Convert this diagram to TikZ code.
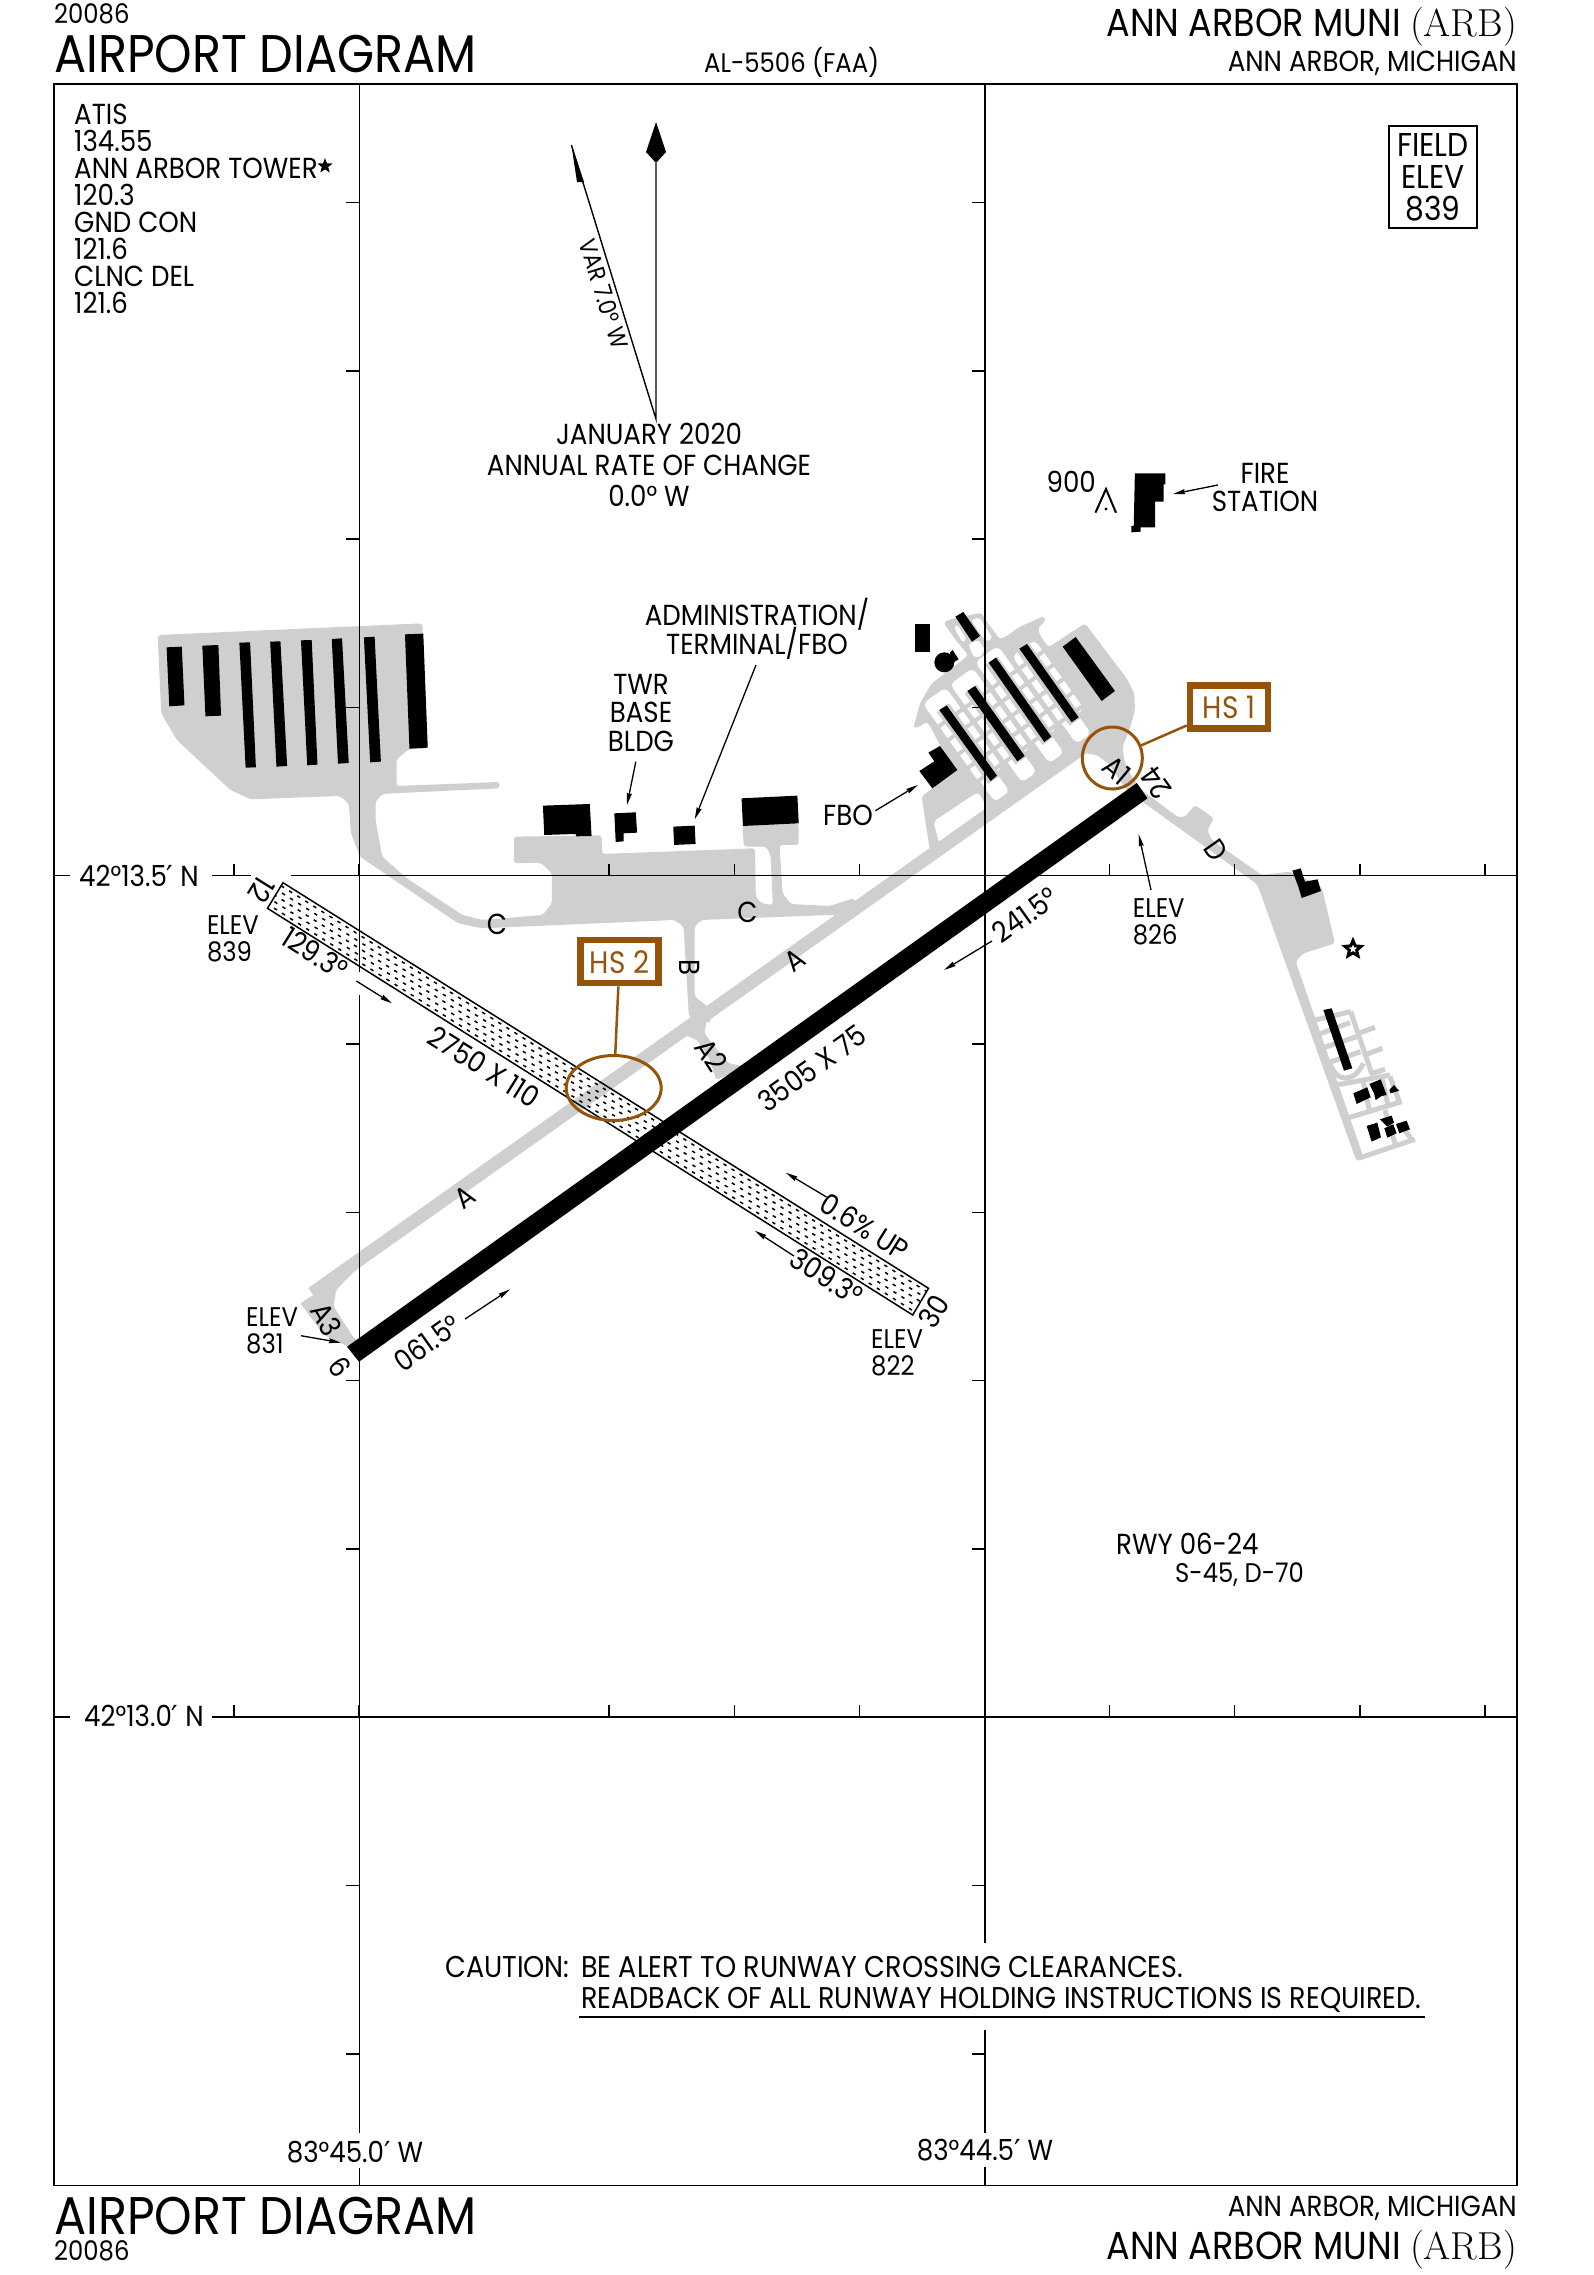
\documentclass[tikz,border=0pt]{standalone}
\usepackage{fontspec}
\setmainfont{Poppins}[FakeStretch=0.9]
\newfontfamily\primefont{DejaVu Sans}
\usetikzlibrary{arrows.meta,calc,positioning,shapes.geometric}
\definecolor{taxigray}{HTML}{CFCFCF}
\definecolor{hotbrown}{HTML}{96540A}
\newcommand{\fs}[2]{\fontsize{#1}{#2}\selectfont\lineskiplimit=-100pt}
\newcommand{\prm}{{\primefont ′}}
\tikzset{
  lab/.style={inner sep=0,font=\fs{29}{27}},
  less/.style={inner sep=0,font=\fs{27}{27}},
  small/.style={inner sep=0,font=\fs{24}{27}},
  big/.style={inner sep=0,font=\fs{39}{40}},
  huge/.style={inner sep=0,font=\fs{53}{56}},
  arr/.style={line width=1.3pt,-{Stealth[length=12pt,width=5pt,inset=1pt]}},
  frm/.style={line width=1.5pt},
  hsbox/.style={draw=hotbrown,line width=6.5pt,text=hotbrown,fill=white,inner sep=0,minimum width=78pt,minimum height=43pt,font=\fs{31}{27}},
  hotspot/.style={ellipse,draw=hotbrown,line width=3pt,inner sep=0},
  viewa/.style={shift={(130,580)},x=0.4464pt,y=-0.3333pt},
  viewb/.style={shift={(800,420)},x=0.3827pt,y=-0.3333pt},
  viewc/.style={shift={(1150,780)},x=0.3333pt,y=-0.3333pt},
  viewd/.style={shift={(250,1000)},x=0.4783pt,y=-0.3333pt},
  viewe/.style={shift={(900,600)},x=0.3333pt,y=-0.3333pt},
  hangars/.style={shift={(943,707.7)},x={(0.271pt,0.1943pt)},y={(0.1943pt,-0.271pt)}},
}
\begin{document}
\begin{tikzpicture}[x=1pt,y=-1pt]
\useasboundingbox (0,0) rectangle (1593,2275);

% taxiways and aprons
\begin{scope}[viewa]
  \fill[taxigray,rounded corners=3pt] (62,165) -- (655,130) -- (660,300) -- (666,505) -- (625,507) -- (597,538) -- (597,618)
    -- (828,606) -- (828,625) -- (590,640) -- (565,642) -- (550,665) -- (550,720) -- (565,830) -- (620,895) -- (745,1005)
    -- (790,1020) -- (925,1005) -- (945,970) -- (945,880) -- (920,848) -- (860,850) -- (860,770) -- (1056,766) -- (1058,822)
    -- (1400,805) -- (1402,950) -- (1415,970) -- (1440,975) -- (1435,825) -- (1425,800) -- (1375,800) -- (1372,735) -- (1498,730)
    -- (1498,795) -- (1455,795) -- (1462,940) -- (1480,972) -- (1568,978) -- (1620,955) -- (1640,985) -- (1600,1005) -- (1568,1005) -- (1280,1020) -- (1265,1040)
    -- (1265,1250) -- (1300,1285) -- (1300,1330) -- (1252,1310) -- (1240,1040) -- (1220,1020) -- (790,1045) -- (735,1030) -- (515,830)
    -- (495,760) -- (490,670) -- (470,648) -- (270,658) -- (225,630) -- (105,480) -- (70,400) -- cycle;
\end{scope}
\begin{scope}[viewe]
  \fill[taxigray,rounded corners=3pt] (65,590) -- (97,565) -- (165,510) -- (125,445) -- (90,378) -- (80,365) -- (62,378) -- (40,385)
    -- (60,310) -- (95,250) -- (175,190) -- (205,165) -- (175,130) -- (130,68) -- (150,58) -- (245,38) -- (258,62) -- (300,118)
    -- (320,108) -- (360,80) -- (432,48) -- (436,64) -- (415,82) -- (418,102) -- (445,142) -- (555,70) -- (680,235) -- (703,280)
    -- (705,330) -- (690,385) -- (668,440) -- (672,480) -- (690,520) -- (710,550) -- (745,590) -- (700,600) -- (625,490)
    -- (590,465) -- (545,458) -- (90,755) -- cycle;
  \fill[white,rounded corners=4pt] (100,665) -- (235,575) -- (262,625) -- (120,738) -- cycle;
  \fill[white,rounded corners=3pt] (162,82) -- (172,74) -- (200,118) -- (188,128) -- cycle;
  \fill[white,rounded corners=3pt] (205,132) -- (236,120) -- (255,150) -- (240,172) -- (220,170) -- cycle;
  \fill[white,rounded corners=3pt] (212,60) -- (238,52) -- (278,115) -- (258,125) -- cycle;
\end{scope}
\begin{scope}[hangars]
  \foreach \ux/\vt/\vb in {0/-45/250, 100/-45/250, 200/-55/250, 300/-5/250} {
    \fill[white,rounded corners=5pt] (\ux-42,\vt) -- (\ux+42,\vt) -- (\ux+42,\vb) -- (\ux-42,\vb) -- cycle;
    \fill[white,rounded corners=6pt] (\ux-38,\vb-30) -- (\ux+16,\vb-30) -- (\ux+16,322) -- (\ux-38,322) -- cycle;
  }
  \foreach \ux/\bt in {0/0, 100/3, 200/-30, 300/-10} {
    \draw[taxigray,line width=15pt] (\ux,\bt) -- (\ux,265);
    \foreach \vr in {38,88,140,190,240}
      \draw[taxigray,line width=4pt] (\ux-45,\vr) -- (\ux+45,\vr);
  }
\end{scope}
\begin{scope}[viewc]
  \fill[taxigray,rounded corners=3pt] (-25,30) -- (85,112) -- (105,110) -- (135,75) -- (192,115) -- (172,150) -- (185,180) -- (335,285)
    -- (420,275) -- (515,320) -- (555,490) -- (460,520) -- (437,545) -- (640,1130) -- (620,1145) -- (330,335) -- (320,312) -- (290,290) -- (-30,60) -- cycle;
  \foreach \ya/\yb in {{487,722}/{602,695},{500,765}/{600,728},{515,805}/{620,770},{530,850}/{632,815},{622,762}/{675,742},{645,825}/{697,805},{660,882}/{705,868},{560,915}/{720,885},{590,1015}/{755,965},{625,1135}/{795,1078},{602,695}/{665,880},{640,905}/{660,1000},{696,895}/{716,985},{720,890}/{750,970},{705,990}/{735,1090},{765,1050}/{785,1080}}
    \draw[taxigray,line width=5pt] (\ya) -- (\yb);
  \draw[taxigray,line width=5pt] (538,845) .. controls (560,915) and (615,905) .. (640,850);
\end{scope}
\draw[taxigray,line width=13pt] (312,1293.3) -- (1095,739);
\begin{scope}[viewd]
  \fill[taxigray,rounded corners=2pt] (105,910) -- (228,800) -- (180,870) -- (175,920) -- (215,1010) -- (240,1040) -- (205,1040) -- (155,1005) -- cycle;
  \fill[taxigray,rounded corners=3pt] (900,100) -- (935,120) -- (960,175) -- (975,240) -- (1040,200) -- (1000,190) -- (950,100) -- (955,60) -- cycle;
\end{scope}

% buildings
\begin{scope}[viewa]
  \fill (82,202) -- (116,200) -- (122,376) -- (88,379) -- cycle;
  \fill (162,197) -- (198,195) -- (204,407) -- (169,409) -- cycle;
  \fill (245,188) -- (269,187) -- (282,562) -- (259,563) -- cycle;
  \fill (314,185) -- (337,184) -- (352,558) -- (328,560) -- cycle;
  \fill (383,181) -- (407,180) -- (420,554) -- (397,556) -- cycle;
  \fill (452,177) -- (475,175) -- (490,549) -- (466,551) -- cycle;
  \fill (524,172) -- (548,170) -- (562,545) -- (538,547) -- cycle;
  \fill (616,163) -- (657,161) -- (667,503) -- (626,506) -- cycle;
  \fill (925,677) -- (1030,672) -- (1034,768) -- (1000,769) -- (998,762) -- (928,765) -- cycle;
  \fill (1085,700) -- (1133,697) -- (1136,758) -- (1106,760) -- (1106,784) -- (1088,786) -- cycle;
  \fill (1217,740) -- (1265,737) -- (1267,792) -- (1219,795) -- cycle;
  \fill (1370,655) -- (1495,647) -- (1498,730) -- (1373,738) -- cycle;
\end{scope}
\begin{scope}[viewe]
  \fill (118,330) -- (140,316) -- (291,527) -- (272,543) -- cycle;
  \fill (202,273) -- (225,258) -- (374,468) -- (352,484) -- cycle;
  \fill (266,188) -- (288,173) -- (454,410) -- (433,426) -- cycle;
  \fill (358,146) -- (381,132) -- (536,352) -- (515,367) -- cycle;
  \fill (488,140) -- (527,111) -- (645,273) -- (605,303) -- cycle;
  \fill (166,50) -- (190,36) -- (240,108) -- (216,125) -- cycle;
  \fill (46,73) -- (89,73) -- (89,155) -- (46,155) -- cycle;
  \fill (133,187) circle (10pt);
  \fill (150,158) -- (158,150) -- (176,178) -- (155,190) -- cycle;
  \fill (58,513) -- (103,484) -- (85,458) -- (120,438) -- (172,510) -- (97,565) -- cycle;
\end{scope}
\begin{scope}[viewb]
  \fill (875,160) -- (955,160) -- (955,193) -- (950,193) -- (950,245) -- (928,245) -- (928,322) -- (890,322) -- (890,335) -- (866,337) -- (866,318) -- (872,318) -- cycle;
\end{scope}
\begin{scope}[viewc]
  \fill (427,272) -- (452,265) -- (465,305) -- (503,298) -- (513,333) -- (455,354) -- (445,320) -- cycle;
  \fill (520,690) -- (545,685) -- (607,865) -- (582,872) -- cycle;
  \fill (610,940) -- (652,922) -- (662,952) -- (620,972) -- cycle;
  \fill (658,912) -- (692,898) -- (710,945) -- (695,948) -- (677,960) -- (672,940) -- cycle;
  \fill (718,930) -- (732,915) -- (740,925) -- (748,932) -- (722,940) -- cycle;
  \fill (650,1038) -- (682,1028) -- (693,1072) -- (665,1085) -- cycle;
  \fill (690,1018) -- (725,1007) -- (732,1028) -- (712,1040) -- cycle;
  \fill (703,1045) -- (730,1033) -- (740,1060) -- (712,1073) -- cycle;
  \fill (738,1032) -- (770,1022) -- (780,1048) -- (748,1060) -- cycle;
\end{scope}
\node[star,star points=5,star point ratio=2.2,draw,fill=white,line width=3pt,inner sep=0,minimum size=17pt] (beacon) at (1353,949) {};

% frame and grid
\draw[frm] (54,84) rectangle (1517,2185.5);
\draw[frm] (54,875.7) -- (70,875.7) (212,875.7) -- (251,875.7) (291,875.7) -- (1517,875.7);
\draw[frm] (54,1717) -- (70,1717) (212,1717) -- (1517,1717);
\draw[frm] (359.5,84) -- (359.5,972) (359.5,995) -- (359.5,2133) (359.5,2168) -- (359.5,2185.5);
\draw[frm] (984.8,84) -- (984.8,1943) (984.8,2030) -- (984.8,2133) (984.8,2167) -- (984.8,2185.5);
\foreach \k in {-4,...,7} {
  \draw[frm] (346,875.7+168.3*\k) -- (359.5,875.7+168.3*\k);
  \draw[frm] (972,875.7+168.3*\k) -- (984.8,875.7+168.3*\k);
}
\foreach \k in {1,3,4,5,7,8,9,10} {
  \draw[frm] (233.9+125.1*\k,875.7) -- (233.9+125.1*\k,864);
}
\foreach \k in {0,1,3,4,5,7,8,9,10} {
  \draw[frm] (233.9+125.1*\k,1717) -- (233.9+125.1*\k,1705);
}
\draw[frm] (233.9,875.7) -- (233.9,864);

% runways
\coordinate (rwa) at (283,882.7);
\coordinate (rwb) at (928.5,1288.3);
\coordinate (rwc) at (912.7,1315);
\coordinate (rwd) at (267.5,908.3);
\draw[line width=1.5pt] (rwa) -- (rwb) -- (rwc) -- (rwd) -- cycle;
\foreach \f/\ph in {0.12/0,0.31/5,0.5/2,0.69/7,0.88/4}
  \draw[line width=1.5pt,dash pattern=on 3.5pt off 6pt,dash phase=\ph pt] ($(rwa)!\f!(rwd)$) -- ($(rwb)!\f!(rwc)$);
\fill (347,1346.7) -- (359,1361.7) -- (1147.5,798.3) -- (1136.8,783) -- cycle;

% hot spots
\node[hotspot,minimum width=95pt,minimum height=65pt] (hotb) at (613.7,1088) {};
\node[hotspot,minimum width=60pt,minimum height=62pt] (hota) at (1112.3,758) {};
\node[hsbox] (hsa) at (1229,707) {HS 1};
\node[hsbox] (hsb) at (619.5,961.7) {HS 2};
\draw[hotbrown,line width=2.5pt] (hsa) -- (hota);
\draw[hotbrown,line width=2.5pt] (hsb) -- (hotb);

% compass
\coordinate (north) at (656,163);
\coordinate (magn) at (571.4,145);
\coordinate (root) at (656,419);
\fill (656,122) -- (666,152) -- (656,163) -- (646,152) -- cycle;
\draw[line width=1.4pt] (north) -- (root) -- (magn);
\fill (magn) -- (584,182) -- (577,182) -- cycle;
\node[small,rotate=-72.8] (varlab) at (604,294) {VAR 7.0° W};
\node[lab,align=center,font=\fs{29}{31},anchor=base] (change) at (649,506.7) {JANUARY 2020\\ANNUAL RATE OF CHANGE\\0.0° W};

% headers
\node[less,anchor=base west] (numtop) at (54,24) {20086};
\node[huge,anchor=base west] (titletop) at (54,72) {AIRPORT DIAGRAM};
\node[less,anchor=base west] (alnum) at (704,72) {AL-5506 (FAA)};
\node[big,anchor=base east] (nametop) at (1517,37) {ANN ARBOR MUNI {\fontfamily{lmr}\selectfont(ARB)}};
\node[lab,anchor=base east] (citytop) at (1517,71.7) {ANN ARBOR, MICHIGAN};
\node[huge,anchor=base west] (titlebot) at (54,2234) {AIRPORT DIAGRAM};
\node[less,anchor=base west] (numbot) at (54,2260) {20086};
\node[lab,anchor=base east] (citybot) at (1517,2216.7) {ANN ARBOR, MICHIGAN};
\node[big,anchor=base east] (namebot) at (1517,2259) {ANN ARBOR MUNI {\fontfamily{lmr}\selectfont(ARB)}};

% frequencies
\node[lab,align=left,anchor=base west] (freq) at (74,313.3) {ATIS\\134.55\\ANN ARBOR TOWER\\120.3\\GND CON\\121.6\\CLNC DEL\\121.6};
\node[star,star points=5,star point ratio=2.4,fill=black,inner sep=0,minimum size=16pt] (towerstar) at (325,166) {};
\node[draw,line width=1.5pt,align=center,inner sep=0,font=\fs{33}{32},minimum width=88pt,minimum height=102pt] (field) at (1433,177) {FIELD\\ELEV\\839};

% labels
\node[lab,anchor=base east] (latb) at (199,886) {42°13.5\prm{} N};
\node[lab,anchor=base east] (latc) at (204,1726) {42°13.0\prm{} N};
\node[lab,anchor=base] (lona) at (355,2162) {83°45.0\prm{} W};
\node[lab,anchor=base] (lonb) at (985,2160) {83°44.5\prm{} W};
\node[lab,font=\fs{30}{27},anchor=base west] (cautlab) at (445,1977) {CAUTION:};
\node[lab,font=\fs{30}{27},anchor=base west] (cauta) at (581,1977) {BE ALERT TO RUNWAY CROSSING CLEARANCES.};
\node[lab,font=\fs{30}{27},anchor=base west] (cautb) at (581,2008) {READBACK OF ALL RUNWAY HOLDING INSTRUCTIONS IS REQUIRED.};
\draw[line width=2pt] (578.6,2017.3) -- (1425,2017.3);
\node[lab,align=left,anchor=base west] (rwyb) at (1116,1554) {RWY 06-24};
\node[less,align=left,anchor=base west] (rwyc) at (1175,1582) {S-45, D-70};

\node[less,align=left,anchor=base west] (elevb) at (206.8,961) {ELEV\\839};
\node[less,align=left,anchor=base west] (elevc) at (1132.6,944) {ELEV\\826};
\node[less,align=left,anchor=base west] (elevd) at (246,1353.3) {ELEV\\831};
\node[less,align=left,anchor=base west] (eleve) at (871,1375) {ELEV\\822};
\node[lab,align=center,font=\fs{29}{28.5},anchor=base] (twrbase) at (641,751) {TWR\\BASE\\BLDG};
\node[lab,align=center,font=\fs{29}{29},anchor=base] (admin) at (757,654) {ADMINISTRATION/\\TERMINAL/FBO};
\node[lab,anchor=base] (fbo) at (848,825) {FBO};
\node[lab,anchor=base east] (obst) at (1096,492.7) {900};
\node[lab,align=center,font=\fs{29}{28.5},anchor=base] (fire) at (1265,511.7) {FIRE\\STATION};

\node[lab,rotate=-122] (rwtwelve) at (261.7,890) {12};
\node[lab,rotate=58] (rwthirty) at (934,1311.7) {30};
\node[lab,rotate=-54.5] (rwsix) at (339.5,1366.7) {6};
\node[lab,rotate=125.5] (rwtwentyfour) at (1156,783) {24};
\node[lab,rotate=-32] (hdga) at (315,953) {129.3°};
\node[lab,rotate=-32] (hdgb) at (826.5,1276.7) {309.3°};
\node[lab,rotate=35.5] (hdgc) at (427,1343) {061.5°};
\node[lab,rotate=35.5] (hdgd) at (1025,915) {241.5°};
\node[lab,rotate=-32] (dima) at (484.4,1066.7) {2750 X 110};
\node[lab,rotate=35.5] (dimb) at (812,1068) {3505 X 75};
\node[lab,rotate=-32] (slope) at (864.8,1226.7) {0.6\% UP};

\node[lab] (twyc) at (497,924.3) {C};
\node[lab] (twyd) at (747.4,912.7) {C};
\node[lab,rotate=35.5] (twye) at (795,960) {A};
\node[lab,rotate=35.5] (twyf) at (465,1196.7) {A};
\node[lab,rotate=-90] (twyg) at (690,967) {B};
\node[lab,rotate=-57] (twyh) at (711.7,1055) {A2};
\node[lab,rotate=-60] (twyi) at (326.6,1319.3) {A3};
\node[lab,rotate=-40] (twyj) at (1116.7,770) {A1};
\node[lab,rotate=-55] (twyk) at (1216,850.7) {D};

% arrows
\coordinate (twrs) at (635.8,761.7);
\coordinate (twrt) at (627,805);
\draw[arr] (twrs) -- (twrt);
\coordinate (adms) at (756,665);
\coordinate (admt) at (694.7,819.3);
\draw[arr] (adms) -- (admt);
\coordinate (fbos) at (875.4,810.7);
\coordinate (fbot) at (917.9,785);
\draw[arr] (fbos) -- (fbot);
\coordinate (fires) at (1218,485);
\coordinate (firet) at (1173,494);
\draw[arr] (fires) -- (firet);
\coordinate (elcs) at (1151,890);
\coordinate (elct) at (1138.7,834.3);
\draw[arr] (elcs) -- (elct);
\coordinate (elds) at (301,1335.7);
\coordinate (eldt) at (340.9,1342.7);
\draw[arr] (elds) -- (eldt);
\coordinate (hdas) at (356.3,981);
\coordinate (hdat) at (392,1003.3);
\draw[arr] (hdas) -- (hdat);
\coordinate (hdbs) at (794,1256);
\coordinate (hdbt) at (754.8,1230.7);
\draw[arr] (hdbs) -- (hdbt);
\coordinate (hdcs) at (465,1319);
\coordinate (hdct) at (510,1289.3);
\draw[arr] (hdcs) -- (hdct);
\coordinate (hdds) at (992,941);
\coordinate (hddt) at (944,970);
\draw[arr] (hdds) -- (hddt);
\coordinate (slps) at (826.5,1197);
\coordinate (slpt) at (785.8,1172.7);
\draw[arr] (slps) -- (slpt);

% obstacle
\coordinate (obsa) at (1095.4,512.7);
\coordinate (obsb) at (1106,489);
\coordinate (obsc) at (1116,512.7);
\draw[line width=2pt] (obsa) -- (obsb) -- (obsc);
\fill (1106,509) circle (1.6pt);
\end{tikzpicture}
\end{document}
